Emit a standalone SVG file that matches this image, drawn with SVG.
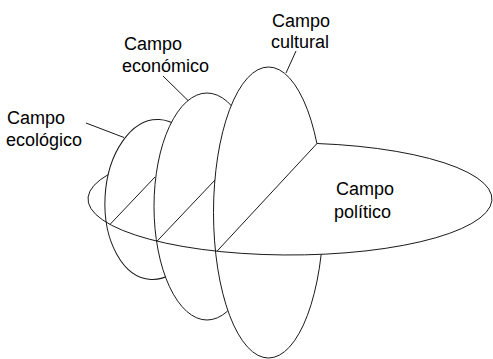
<svg xmlns="http://www.w3.org/2000/svg" width="493" height="359" viewBox="0 0 493 359">
<style>
.disc{fill:#fff;stroke:#1a1a1a;stroke-width:1}
.ln{fill:none;stroke:#1a1a1a;stroke-width:1}
.lbl{font-family:"Liberation Sans",Arial,sans-serif;font-size:18px;fill:#000}
</style>
<rect width="493" height="359" fill="#fff"/>
<g id="campo-ecologico">
<ellipse class="disc" cx="155" cy="199.5" rx="50" ry="80" transform="rotate(3 155 199.5)"/>
</g>
<g id="campo-economico">
<ellipse class="disc" cx="207" cy="206.5" rx="53" ry="113.5"/>
</g>
<g id="campo-cultural">
<ellipse class="disc" cx="268.5" cy="212.5" rx="55" ry="145.5"/>
</g>
<g id="campo-politico">
<path d="M217,251.2 L317,143.5 A202,56 0 1 1 217,251.2 Z" fill="#fff" stroke="none"/>
<path class="ln" d="M108.5,174.4 A202,56 0 1 0 317,143.5"/>
</g>
<g id="connectors">
<line class="ln" x1="110" y1="224.4" x2="155" y2="177"/>
<line class="ln" x1="157" y1="241.2" x2="215" y2="180"/>
<line class="ln" x1="217" y1="251.2" x2="317" y2="143.5"/>
<line class="ln" x1="86" y1="123" x2="124" y2="137.5"/>
<line class="ln" x1="163" y1="76" x2="188" y2="100.5"/>
<line class="ln" x1="296" y1="51" x2="286" y2="73"/>
</g>
<g id="labels">
<text class="lbl" x="7" y="124">Campo</text>
<text class="lbl" x="6" y="146">ecológico</text>
<text class="lbl" x="124" y="50">Campo</text>
<text class="lbl" x="122" y="72">económico</text>
<text class="lbl" x="272" y="27">Campo</text>
<text class="lbl" x="271" y="48">cultural</text>
<text class="lbl" x="336" y="195">Campo</text>
<text class="lbl" x="334" y="218">político</text>
</g>
</svg>
